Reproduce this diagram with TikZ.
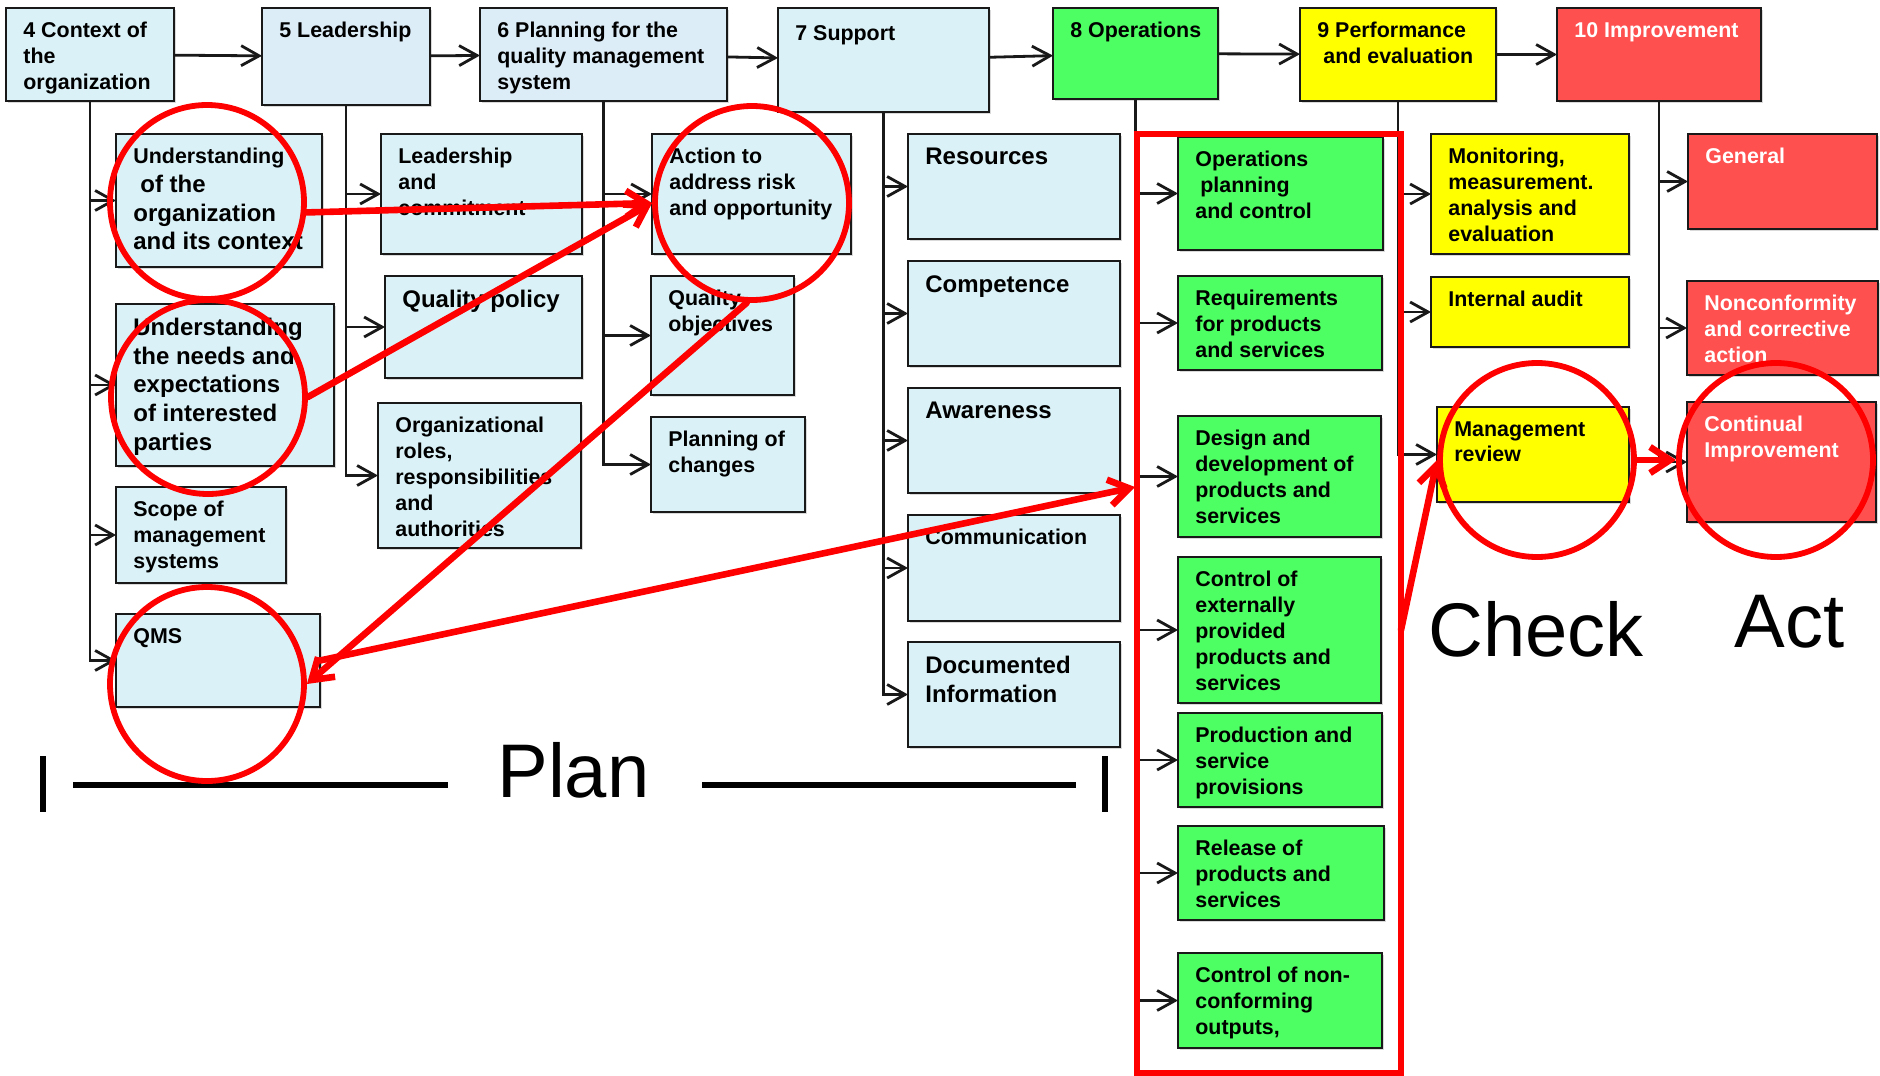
\documentclass[tikz,border=0pt]{standalone}
\usepackage{fontspec}
\setmainfont{Liberation Sans}
\usetikzlibrary{arrows.meta,fit,shadows}

\definecolor{pale}{RGB}{218,242,247}
\definecolor{paleb}{RGB}{221,237,248}
\definecolor{opsgreen}{RGB}{77,255,98}
\definecolor{evalyellow}{RGB}{255,255,0}
\definecolor{imprred}{RGB}{255,80,80}
\definecolor{ringred}{RGB}{255,0,0}

% name, corner, corner, fill, text  (optional: text options)
\newcommand\clausebox[6][]{%
  \node[boxframe, fill=#5, fit={#3 #4}] (#2) {};
  \node[boxtext, #1] (#2-t) at ([shift={(17,14)}]#2.north west) {#6};
}

\begin{document}
\begin{tikzpicture}[x=0.5pt, y=-0.5pt,
  boxframe/.style={draw=black!90, line width=1.4pt, inner sep=0pt, outer sep=0pt,
    drop shadow={shadow xshift=1.2pt, shadow yshift=-1.2pt, opacity=0.15, fill=black}},
  boxtext/.style={anchor=north west, inner sep=0pt, align=left,
    font=\fontsize{10.7}{12.9}\selectfont\bfseries},
  bigtext/.style={font=\fontsize{12}{14.3}\selectfont\bfseries},
  lighttext/.style={text=white},
  link/.style={draw=black!90, line width=1.4pt, -{Straight Barb[length=9pt,width=10pt]}},
  ring/.style={circle, draw=ringred, line width=2.9pt, minimum size=97pt, inner sep=0pt},
  mk/.style={draw=ringred, line width=3.3pt, line cap=round,
    -{Straight Barb[length=10pt,width=13pt]}},
  phase/.style={inner sep=0pt, anchor=base west, font=\fontsize{38}{40}\selectfont},
  rulebar/.style={draw=black, line width=2.6pt}
]
\fill[white] (0,0) rectangle (1880,1076);
\useasboundingbox (0,0) rectangle (1880,1076);

% ---- main clauses ----
\clausebox{b4}{(6,8)}{(174,101)}{pale}{4 Context of\\the\\organization}
\clausebox{b5}{(262,8)}{(430,105)}{paleb}{5 Leadership}
\clausebox{b6}{(480,8)}{(727,101)}{paleb}{6 Planning for the\\quality management\\system}
\clausebox[shift={(0,3)}]{b7}{(778,8)}{(989,112)}{pale}{7 Support}
\clausebox{b8}{(1053,8)}{(1218,99)}{opsgreen}{8 Operations}
\clausebox{b9}{(1300,8)}{(1496,101)}{evalyellow}{9 Performance\\\hspace*{3pt}and evaluation}
\clausebox[lighttext]{b10}{(1557,8)}{(1761,101)}{imprred}{10 Improvement}

% ---- clause 4 ----
\clausebox[bigtext]{c41}{(116,134)}{(322,267)}{pale}{{\fontsize{10.7}{14.3}\selectfont Understanding}\\\hspace*{3.5pt}of the\\organization\\and its context}
\clausebox[bigtext]{c42}{(116,304)}{(334,466)}{pale}{Understanding\\the needs and\\expectations\\of interested\\parties}
\clausebox{c43}{(116,487)}{(286,583)}{pale}{Scope of\\management\\systems}
\clausebox{c44}{(116,614)}{(320,707)}{pale}{QMS}

% ---- clause 5 ----
\clausebox{c51}{(381,134)}{(582,254)}{pale}{Leadership\\and\\commitment}
\clausebox[bigtext]{c52}{(385,276)}{(582,378)}{pale}{Quality policy}
\clausebox{c53}{(378,403)}{(581,548)}{pale}{Organizational\\roles,\\responsibilities\\and\\authorities}

% ---- clause 6 ----
\clausebox{c61}{(652,134)}{(851,254)}{pale}{Action to\\address risk\\and opportunity}
\clausebox{c62}{(651,276)}{(794,395)}{pale}{Quality\\objectives}
\clausebox{c63}{(651,417)}{(805,512)}{pale}{Planning of\\changes}

% ---- clause 7 ----
\clausebox[bigtext]{c71}{(908,134)}{(1120,239)}{pale}{Resources}
\clausebox[bigtext]{c72}{(908,261)}{(1120,366)}{pale}{Competence}
\clausebox[bigtext]{c73}{(908,388)}{(1120,493)}{pale}{Awareness}
\clausebox{c74}{(908,515)}{(1120,621)}{pale}{Communication}
\clausebox[bigtext]{c75}{(908,642)}{(1120,747)}{pale}{Documented\\Information}

% ---- clause 8 ----
\clausebox{c81}{(1178,137)}{(1383,250)}{opsgreen}{Operations\\\hspace*{2.5pt}planning\\and control}
\clausebox{c82}{(1178,276)}{(1382,370)}{opsgreen}{Requirements\\for products\\and services}
\clausebox{c83}{(1178,416)}{(1381,537)}{opsgreen}{Design and\\development of\\products and\\services}
\clausebox{c84}{(1178,557)}{(1381,703)}{opsgreen}{Control of\\externally\\provided\\products and\\services}
\clausebox{c85}{(1178,713)}{(1382,807)}{opsgreen}{Production and\\service\\provisions}
\clausebox{c86}{(1178,826)}{(1384,920)}{opsgreen}{Release of\\products and\\services}
\clausebox{c87}{(1178,953)}{(1382,1048)}{opsgreen}{Control of non-\\conforming\\outputs,}

% ---- clause 9 ----
\clausebox{c91}{(1431,134)}{(1629,254)}{evalyellow}{Monitoring,\\measurement.\\analysis and\\evaluation}
\clausebox{c92}{(1431,277)}{(1629,347)}{evalyellow}{Internal audit}
\clausebox{c93}{(1437,407)}{(1629,502)}{evalyellow}{Management\\review}

% ---- clause 10 ----
\clausebox[lighttext]{c101}{(1688,134)}{(1877,229)}{imprred}{General}
\clausebox[lighttext]{c102}{(1687,281)}{(1878,375)}{imprred}{Nonconformity\\and corrective\\action}
\clausebox[lighttext]{c103}{(1687,402)}{(1876,522)}{imprred}{Continual\\Improvement}

% ---- sequence of clauses ----
\draw[link] (b4) -- (b5);
\draw[link] (b5) -- (b6);
\draw[link] (b6) -- (b7);
\draw[link] (b7) -- (b8);
\draw[link] (b8) -- (b9);
\draw[link] (b9) -- (b10);

% ---- sub-clause trees ----
\foreach \c in {c41,c42,c43,c44} \draw[link] (b4.south) |- (\c.west);
\foreach \c in {c51,c52,c53} \draw[link] (b5.south) |- (\c.west);
\foreach \c in {c61,c62,c63} \draw[link] (b6.south) |- (\c.west);
\foreach \c in {c71,c72,c73,c74,c75} \draw[link] (b7.south) |- (\c.west);
\foreach \c in {c81,c82,c83,c84,c85,c86,c87} \draw[link] (b8.south) |- (\c.west);
\foreach \c in {c91,c92,c93} \draw[link] (b9.south) |- (\c.west);
\foreach \c in {c101,c102,c103} \draw[link] (b10.south) |- (\c.west);

% ---- Plan bracket ----
\node[phase] (plan) at (497,797) {Plan};
\draw[rulebar] (43,756) -- (43,812);
\draw[rulebar] (73,785) -- (448,785);
\draw[rulebar] (702,785) -- (1076,785);
\draw[rulebar] (1105,756) -- (1105,812);
\node[phase] (check) at (1428,656) {Check};
\node[phase] (act) at (1734,647) {Act};

% ---- highlights ----
\node[fit={(1137,134) (1401,1073)}, draw=ringred, line width=3pt, inner sep=0pt] (opsframe) {};
\coordinate (frameIn) at (1135,487);
\coordinate (frameOut) at (1401,630);

\node[ring] (e1) at (207,202) {};
\node[ring] (e2) at (208,397) {};
\node[ring] (e3) at (207,684) {};
\node[ring] (e4) at (752,203) {};
\node[ring] (e5) at (1537,460) {};
\node[ring] (e6) at (1776,460) {};

\draw[mk] (e1.-6) -- (e4.west);
\draw[mk] (e2.east) -- (e4.west);
\draw[mk] (e4.-93) -- (e3.east);
\draw[mk] (c44.east) -- (frameIn);
\draw[mk] (frameOut) -- (e5.west);
\draw[mk] (e5.east) -- (e6.west);
\end{tikzpicture}
\end{document}
